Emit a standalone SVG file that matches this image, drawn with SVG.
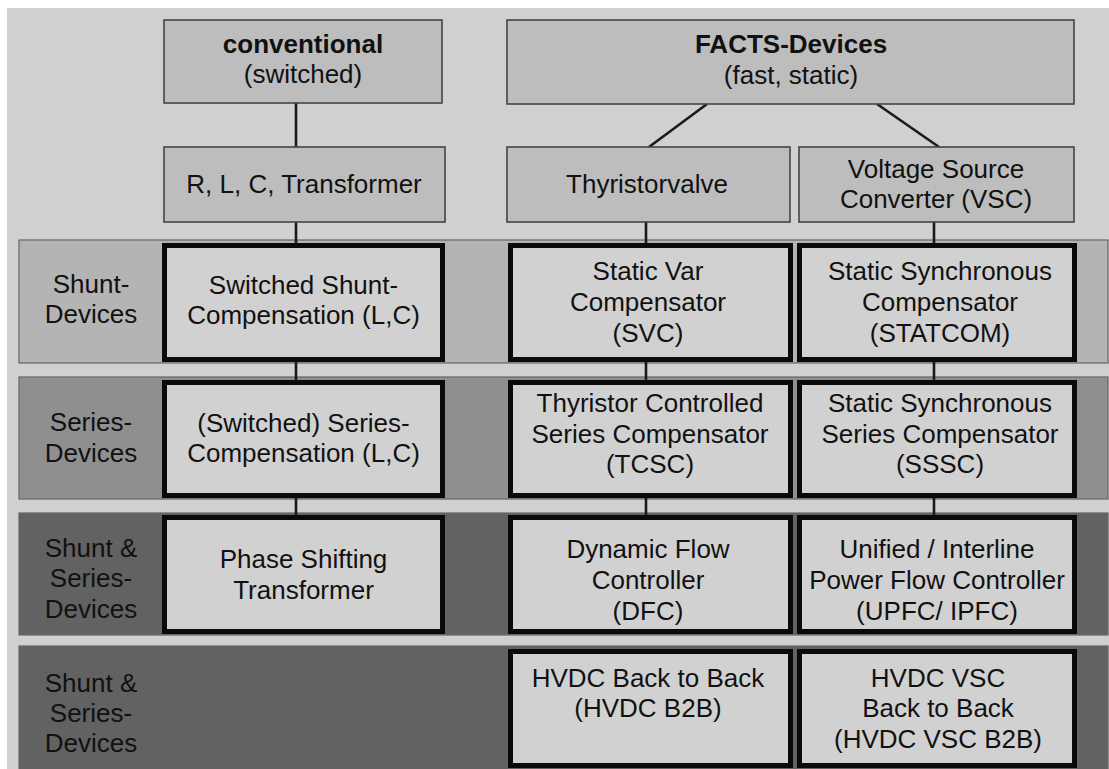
<svg xmlns="http://www.w3.org/2000/svg" width="1109" height="769" viewBox="0 0 1109 769">
<style>
text{font-family:"Liberation Sans",Arial,Helvetica,sans-serif;font-size:26px;fill:#111;text-anchor:middle}
.b{font-weight:bold}
.top{fill:#bdbdbd;stroke:#444;stroke-width:1.6}
.dev{fill:#d1d1d1;stroke:#0a0a0a;stroke-width:5}
.row{stroke:#666;stroke-width:1.2}
.c{stroke:#1a1a1a;stroke-width:2.6;fill:none}
</style>
<rect x="0" y="0" width="1109" height="769" fill="#ffffff"/>
<rect x="7" y="8" width="1102" height="761" fill="#d0d0d0"/>
<g id="rows">
<rect class="row" x="19" y="240" width="1089" height="123" fill="#b4b4b4"/>
<rect class="row" x="19" y="377" width="1089" height="122" fill="#8f8f8f"/>
<rect class="row" x="19" y="513" width="1089" height="122" fill="#626262"/>
<rect class="row" x="19" y="646" width="1089" height="125" fill="#626262"/>
</g>
<g id="connectors">
<line class="c" x1="296" y1="103" x2="296" y2="147"/>
<line class="c" x1="707" y1="104" x2="649" y2="147"/>
<line class="c" x1="877" y1="104" x2="939" y2="147"/>
<line class="c" x1="296" y1="222" x2="296" y2="243"/>
<line class="c" x1="646" y1="222" x2="646" y2="243"/>
<line class="c" x1="934" y1="222" x2="934" y2="243"/>
<line class="c" x1="296" y1="362" x2="296" y2="380"/>
<line class="c" x1="646" y1="362" x2="646" y2="380"/>
<line class="c" x1="934" y1="362" x2="934" y2="380"/>
<line class="c" x1="296" y1="498" x2="296" y2="515"/>
<line class="c" x1="646" y1="498" x2="646" y2="515"/>
<line class="c" x1="934" y1="498" x2="934" y2="515"/>
</g>
<g id="n-conventional">
<rect class="top" x="164" y="20" width="278" height="83"/>
<text class="b" x="303" y="53">conventional</text>
<text x="303" y="83">(switched)</text>
</g>
<g id="n-facts">
<rect class="top" x="507" y="20" width="567" height="84"/>
<text class="b" x="791" y="53">FACTS-Devices</text>
<text x="791" y="84">(fast, static)</text>
</g>
<g id="n-rlc">
<rect class="top" x="164" y="147" width="281" height="75"/>
<text x="304" y="193">R, L, C, Transformer</text>
</g>
<g id="n-thyristorvalve">
<rect class="top" x="507" y="147" width="283" height="75"/>
<text x="647" y="193">Thyristorvalve</text>
</g>
<g id="n-vsc">
<rect class="top" x="799" y="147" width="275" height="75"/>
<text x="936" y="178">Voltage Source</text>
<text x="936" y="208">Converter (VSC)</text>
</g>
<g id="label-shunt">
<text x="91" y="293">Shunt-</text>
<text x="91" y="323">Devices</text>
</g>
<g id="label-series">
<text x="91" y="431">Series-</text>
<text x="91" y="462">Devices</text>
</g>
<g id="label-shunt-series-1">
<text x="91" y="557">Shunt &amp;</text>
<text x="91" y="587">Series-</text>
<text x="91" y="618">Devices</text>
</g>
<g id="label-shunt-series-2">
<text x="91" y="692">Shunt &amp;</text>
<text x="91" y="722">Series-</text>
<text x="91" y="752">Devices</text>
</g>
<g id="n-switched-shunt">
<rect class="dev" x="164.5" y="245.5" width="278" height="114"/>
<text x="303.5" y="294">Switched Shunt-</text>
<text x="303.5" y="324">Compensation (L,C)</text>
</g>
<g id="n-svc">
<rect class="dev" x="510.5" y="245.5" width="280" height="114"/>
<text x="648" y="280">Static Var</text>
<text x="648" y="311">Compensator</text>
<text x="648" y="342">(SVC)</text>
</g>
<g id="n-statcom">
<rect class="dev" x="799.5" y="245.5" width="275" height="114"/>
<text x="940" y="280">Static Synchronous</text>
<text x="940" y="311">Compensator</text>
<text x="940" y="342">(STATCOM)</text>
</g>
<g id="n-switched-series">
<rect class="dev" x="164.5" y="382.5" width="278" height="113"/>
<text x="303.5" y="432">(Switched) Series-</text>
<text x="303.5" y="462">Compensation (L,C)</text>
</g>
<g id="n-tcsc">
<rect class="dev" x="510.5" y="382.5" width="280" height="113"/>
<text x="650" y="412">Thyristor Controlled</text>
<text x="650" y="443">Series Compensator</text>
<text x="650" y="473">(TCSC)</text>
</g>
<g id="n-sssc">
<rect class="dev" x="799.5" y="382.5" width="275" height="113"/>
<text x="940" y="412">Static Synchronous</text>
<text x="940" y="443">Series Compensator</text>
<text x="940" y="473">(SSSC)</text>
</g>
<g id="n-pst">
<rect class="dev" x="164.5" y="517.5" width="278" height="114"/>
<text x="303.5" y="568">Phase Shifting</text>
<text x="303.5" y="599">Transformer</text>
</g>
<g id="n-dfc">
<rect class="dev" x="510.5" y="517.5" width="280" height="114"/>
<text x="648" y="558">Dynamic Flow</text>
<text x="648" y="589">Controller</text>
<text x="648" y="620">(DFC)</text>
</g>
<g id="n-upfc">
<rect class="dev" x="799.5" y="517.5" width="275" height="114"/>
<text x="937" y="558">Unified / Interline</text>
<text x="937" y="589">Power Flow Controller</text>
<text x="937" y="620">(UPFC/ IPFC)</text>
</g>
<g id="n-hvdc-b2b">
<rect class="dev" x="510.5" y="651.5" width="280" height="114"/>
<text x="648" y="687">HVDC Back to Back</text>
<text x="648" y="717">(HVDC B2B)</text>
</g>
<g id="n-hvdc-vsc">
<rect class="dev" x="799.5" y="651.5" width="275" height="114"/>
<text x="938" y="687">HVDC VSC</text>
<text x="938" y="717">Back to Back</text>
<text x="938" y="748">(HVDC VSC B2B)</text>
</g>
</svg>
